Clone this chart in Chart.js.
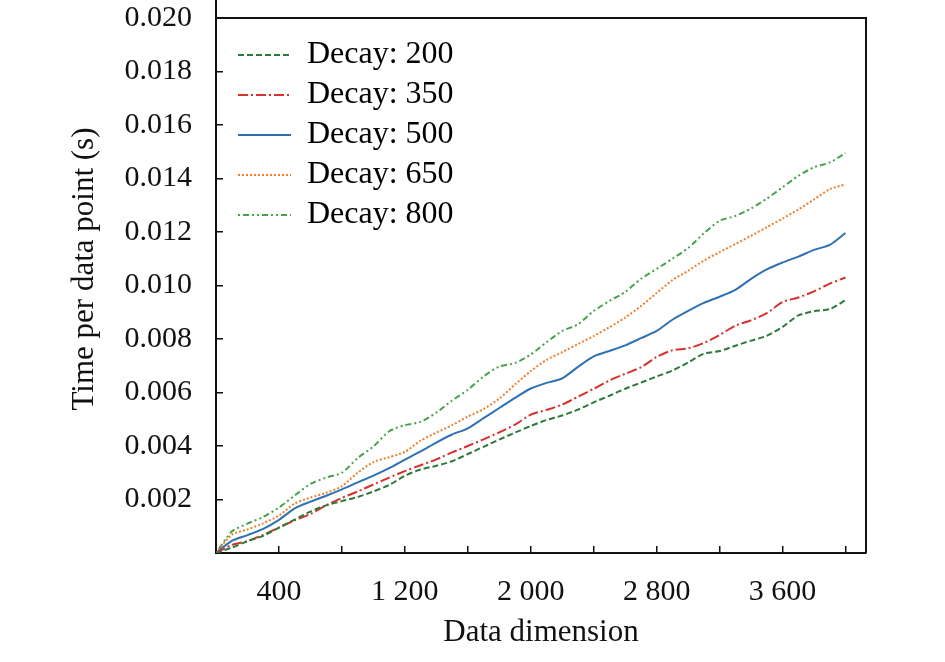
<!DOCTYPE html>
<html>
<head>
<meta charset="utf-8">
<script src="https://cdn.jsdelivr.net/npm/chart.js@4.4.1/dist/chart.umd.min.js"></script>
<style>
  html, body { margin: 0; padding: 0; background: #fff; }
  #wrap { width: 945px; height: 662px; position: relative; }
</style>
</head>
<body>
<div id="wrap"><canvas id="c" width="945" height="662"></canvas></div>
<script>
const dims = [0,100,200,300,400,500,600,700,800,900,1000,1100,1200,1300,1400,1500,1600,1700,1800,1900,2000,2100,2200,2300,2400,2500,2600,2700,2800,2900,3000,3100,3200,3300,3400,3500,3600,3700,3800,3900,4000];

const decay200 = [0,0.00020,0.00044,0.00064,0.00095,0.00125,0.00155,0.00178,0.00194,0.00209,0.00230,0.00254,0.00289,0.00312,0.00326,0.00343,0.00370,0.00397,0.00424,0.00450,0.00475,0.00497,0.00514,0.00536,0.00563,0.00588,0.00614,0.00637,0.00660,0.00682,0.00712,0.00745,0.00755,0.00775,0.00794,0.00812,0.00845,0.00888,0.00904,0.00912,0.00945];
const decay350 = [0,0.00030,0.00045,0.00068,0.00095,0.00122,0.00146,0.00178,0.00206,0.00230,0.00256,0.00282,0.00306,0.00328,0.00350,0.00376,0.00400,0.00425,0.00451,0.00480,0.00517,0.00535,0.00555,0.00584,0.00614,0.00645,0.00670,0.00694,0.00733,0.00758,0.00765,0.00785,0.00815,0.00850,0.00870,0.00897,0.00938,0.00955,0.00978,0.01007,0.01030];
const decay500 = [0,0.00045,0.00067,0.00090,0.00124,0.00167,0.00192,0.00214,0.00238,0.00264,0.00289,0.00317,0.00349,0.00380,0.00413,0.00443,0.00466,0.00504,0.00542,0.00580,0.00615,0.00636,0.00653,0.00696,0.00735,0.00755,0.00776,0.00803,0.00830,0.00872,0.00905,0.00935,0.00958,0.00984,0.01025,0.01060,0.01086,0.01108,0.01133,0.01152,0.01196];
const decay650 = [0,0.00068,0.00088,0.00111,0.00140,0.00185,0.00207,0.00225,0.00250,0.00300,0.00340,0.00358,0.00378,0.00420,0.00450,0.00478,0.00510,0.00538,0.00577,0.00630,0.00680,0.00722,0.00751,0.00781,0.00811,0.00844,0.00880,0.00923,0.00972,0.01020,0.01055,0.01093,0.01125,0.01155,0.01186,0.01218,0.01250,0.01284,0.01322,0.01360,0.01378];
const decay800 = [0,0.00080,0.00110,0.00135,0.00170,0.00215,0.00258,0.00282,0.00300,0.00355,0.00398,0.00455,0.00478,0.00490,0.00525,0.00570,0.00610,0.00660,0.00697,0.00710,0.00742,0.00788,0.00830,0.00855,0.00905,0.00942,0.00976,0.01025,0.01062,0.01100,0.01140,0.01195,0.01242,0.01260,0.01288,0.01325,0.01367,0.01410,0.01442,0.01460,0.01495];

const seriesNames = ['Decay: 200','Decay: 350','Decay: 500','Decay: 650','Decay: 800'];
const xTickValues = [0,400,800,1200,1600,2000,2400,2800,3200,3600,4000];
const xLabelTicks = [400, 1200, 2000, 2800, 3600];

const FONT = 'Liberation Serif, Times New Roman, serif';

function pts(arr) { return dims.map((d, i) => ({ x: d, y: arr[i] })); }

const styles = [
  { color: '#2c7a3a', dash: [6, 3] },
  { color: '#d8302a', dash: [10, 3, 2, 3] },
  { color: '#2f72b4', dash: [] },
  { color: '#f07f2a', dash: [2, 2] },
  { color: '#45a246', dash: [2, 3, 6, 3, 2, 3] }
];
const allData = [decay200, decay350, decay500, decay650, decay800];

const frame = {
  id: 'frame',
  afterLayout(chart) {
    const a = chart.chartArea;
    const lg = chart.legend;
    if (lg) {
      const dx = a.left + 14 - lg.left;
      const dy = a.top + 13 - lg.top;
      lg.left += dx; lg.right += dx; lg.top += dy; lg.bottom += dy;
    }
    const y = chart.scales.y;
    y.top -= 33;
  },
  afterDatasetsDraw(chart) {
    const { ctx, chartArea: a } = chart;
    ctx.save();
    ctx.strokeStyle = '#111';
    ctx.lineWidth = 2;
    ctx.beginPath();
    ctx.moveTo(a.left, a.top);
    ctx.lineTo(a.right, a.top);
    ctx.lineTo(a.right, a.bottom);
    ctx.stroke();
    ctx.restore();
  }
};

new Chart(document.getElementById('c'), {
  type: 'line',
  data: {
    datasets: allData.map((arr, i) => ({
      label: seriesNames[i],
      data: pts(arr),
      borderColor: styles[i].color,
      backgroundColor: styles[i].color,
      borderDash: styles[i].dash,
      borderWidth: 2,
      pointRadius: 0,
      tension: 0.25,
      fill: false
    }))
  },
  options: {
    responsive: false,
    animation: false,
    devicePixelRatio: 1,
    layout: { padding: { left: 0, right: 79, top: 18, bottom: 0 } },
    plugins: {
      tooltip: { enabled: false },
      legend: {
        position: 'chartArea',
        align: 'start',
        labels: {
          usePointStyle: true,
          pointStyle: 'line',
          pointStyleWidth: 53,
          boxHeight: 32,
          padding: 8,
          color: '#111',
          font: { family: FONT, size: 32 },
          generateLabels(chart) {
            return chart.data.datasets.map((ds, i) => ({
              text: ds.label,
              fillStyle: ds.borderColor,
              strokeStyle: ds.borderColor,
              lineWidth: 2,
              lineDash: ds.borderDash,
              pointStyle: 'line',
              hidden: false,
              datasetIndex: i
            }));
          }
        }
      }
    },
    scales: {
      x: {
        type: 'linear',
        min: 0,
        max: 4130,
        afterBuildTicks(s) { s.ticks = xTickValues.map(v => ({ value: v })); },
        afterFit(s) { s.height = 109; s.paddingLeft = 0; s.paddingRight = 0; },
        border: { display: true, color: '#111', width: 2 },
        grid: { drawOnChartArea: false, drawTicks: true, tickLength: -7, color: '#111', lineWidth: 1.5 },
        ticks: {
          autoSkip: false,
          maxRotation: 0,
          padding: 28,
          color: '#111',
          font: { family: FONT, size: 30 },
          callback(v) {
            if (!xLabelTicks.includes(v)) return '';
            return String(v).replace(/\B(?=(\d{3})+(?!\d))/g, ' ');
          }
        },
        title: {
          display: true,
          text: 'Data dimension',
          color: '#111',
          font: { family: FONT, size: 31 },
          padding: { top: 0, bottom: 11 }
        }
      },
      y: {
        type: 'linear',
        min: 0,
        max: 0.020,
        afterFit(s) { s.width = 216; s.paddingTop = 0; s.paddingBottom = 0; },
        border: { display: true, color: '#111', width: 2 },
        grid: { drawOnChartArea: false, drawTicks: true, tickLength: -7, color: '#111', lineWidth: 1.5 },
        ticks: {
          stepSize: 0.002,
          padding: 31,
          color: '#111',
          font: { family: FONT, size: 30 },
          callback(v) { return v === 0 ? '' : v.toFixed(3); }
        },
        title: {
          display: true,
          text: 'Time per data point (s)',
          color: '#111',
          font: { family: FONT, size: 31 },
          padding: { top: 66, bottom: 0 }
        }
      }
    }
  },
  plugins: [frame]
});
</script>
</body>
</html>
